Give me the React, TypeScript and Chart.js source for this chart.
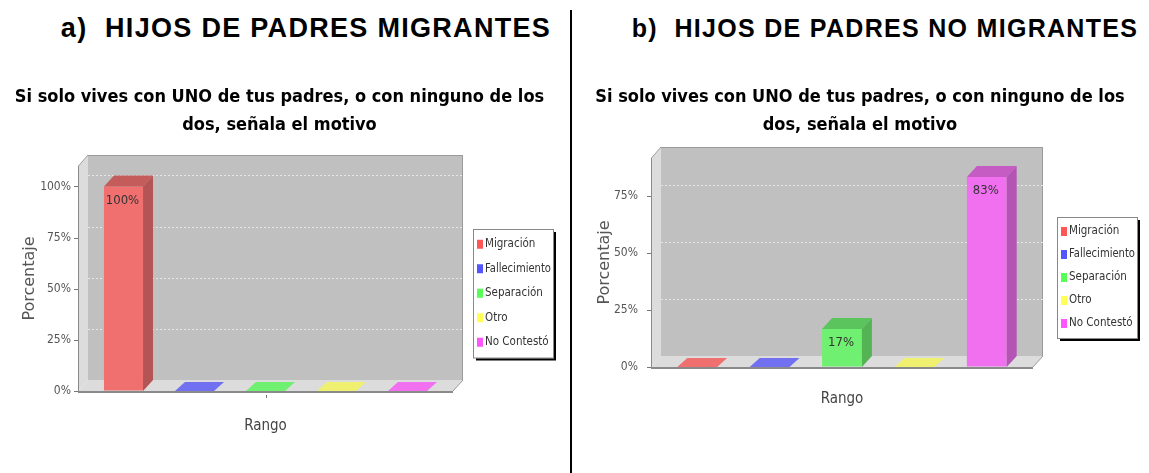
import React, { useEffect, useRef } from "react";
import { Chart, registerables } from "chart.js";
Chart.register(...registerables);

// ---- data ----
const categories = ["Migración", "Fallecimiento", "Separación", "Otro", "No Contestó"];
const migrantValues = [100, 0, 0, 0, 0];
const noMigrantValues = [0, 0, 16.7, 0, 83.3];
const tickStep = 25;
const chartTitle = ["Si solo vives con UNO de tus padres, o con ninguno de los", "dos, señala el motivo"];
const xAxisTitle = "Rango";
const yAxisTitle = "Porcentaje";
const headingA = "a)  HIJOS DE PADRES MIGRANTES";
const headingB = "b)  HIJOS DE PADRES NO MIGRANTES";

// ---- styles ----
const frontColors = ["#f07070", "#7070f0", "#70f070", "#f0f070", "#f070f0"];
const topColors = ["#c45c5c", "#5c5cc4", "#5cc45c", "#c4c45c", "#c45cc4"];
const sideColors = ["#b45454", "#5454b4", "#54b454", "#b4b454", "#b454b4"];
const legendColors = ["#ff5555", "#5555ff", "#55ff55", "#ffff55", "#ff55ff"];

type PanelCfg = {
  values: number[];
  canvasLeft: number;
  canvasWidth: number;
  yAxisWidth: number;
  rightReserve: number;
  titlePadBottom: number;
  xAxisHeight: number;
  rangoPadBottom: number;
  tickLen: number;
  legendDx: number;
  legendDy: number;
  rowH: number;
  centerTick: boolean;
};

const DX = 10;
const DY = 11;

const box3dPlugin = {
  id: "box3d",
  beforeDatasetsDraw(chart: any) {
    const { ctx, chartArea } = chart;
    const y = chart.scales.y;
    const L = chartArea.left, R = chartArea.right, T = chartArea.top, B = chartArea.bottom;
    const FL = L - DX, FR = R + DX;
    ctx.save();
    // back wall
    ctx.fillStyle = "#c0c0c0";
    ctx.fillRect(FL + DX, T - DY, FR - FL, B - T);
    ctx.strokeStyle = "#9a9a9a";
    ctx.lineWidth = 1;
    ctx.beginPath();
    ctx.moveTo(FL + DX, T - DY + 0.5);
    ctx.lineTo(FR + DX - 0.5, T - DY + 0.5);
    ctx.lineTo(FR + DX - 0.5, B - DY);
    ctx.stroke();
    // left wall
    ctx.fillStyle = "#dcdcdc";
    ctx.beginPath();
    ctx.moveTo(FL, T);
    ctx.lineTo(FL + DX, T - DY);
    ctx.lineTo(FL + DX, B - DY);
    ctx.lineTo(FL, B);
    ctx.closePath();
    ctx.fill();
    ctx.strokeStyle = "#a0a0a0";
    ctx.beginPath();
    ctx.moveTo(FL + 0.5, T);
    ctx.lineTo(FL + DX, T - DY);
    ctx.stroke();
    // floor
    ctx.fillStyle = "#dcdcdc";
    ctx.beginPath();
    ctx.moveTo(FL, B);
    ctx.lineTo(FL + DX, B - DY);
    ctx.lineTo(FR + DX, B - DY);
    ctx.lineTo(FR, B);
    ctx.closePath();
    ctx.fill();
    ctx.strokeStyle = "#9a9a9a";
    ctx.beginPath();
    ctx.moveTo(FR, B);
    ctx.lineTo(FR + DX, B - DY);
    ctx.stroke();
    // gridlines on back wall
    ctx.strokeStyle = "#e6e6e6";
    ctx.setLineDash([2, 2]);
    for (const t of y.ticks) {
      if (t.value <= 0) continue;
      const py = Math.round(y.getPixelForValue(t.value) - DY) + 0.5;
      ctx.beginPath();
      ctx.moveTo(FL + DX, py);
      ctx.lineTo(FR + DX, py);
      ctx.stroke();
    }
    ctx.setLineDash([]);
    // front axis lines
    ctx.strokeStyle = "#8a8a8a";
    ctx.lineWidth = 1;
    ctx.beginPath();
    ctx.moveTo(FL + 0.5, T);
    ctx.lineTo(FL + 0.5, B);
    ctx.stroke();
    ctx.lineWidth = 2;
    ctx.beginPath();
    ctx.moveTo(FL, B + 1);
    ctx.lineTo(FR, B + 1);
    ctx.stroke();
    // y tick marks
    ctx.lineWidth = 1;
    ctx.strokeStyle = "#777";
    for (const t of y.ticks) {
      const py = Math.round(y.getPixelForValue(t.value)) + 0.5;
      ctx.beginPath();
      ctx.moveTo(FL - 4, py);
      ctx.lineTo(FL, py);
      ctx.stroke();
    }
    const cfg = chart.options.plugins.box3d as PanelCfg;
    if (cfg.centerTick) {
      const cx = Math.round((L + R) / 2) + 0.5;
      ctx.beginPath();
      ctx.moveTo(cx, B + 4);
      ctx.lineTo(cx, B + 7);
      ctx.stroke();
    }
    // floor marks for zero bars
    const meta = chart.getDatasetMeta(0);
    const ds = chart.data.datasets[0];
    meta.data.forEach((bar: any, i: number) => {
      const v = ds.data[i] as number;
      if (v > 0) return;
      const x0 = bar.x - bar.width / 2, x1 = bar.x + bar.width / 2;
      ctx.fillStyle = frontColors[i];
      ctx.beginPath();
      ctx.moveTo(x0, B);
      ctx.lineTo(x0 + DX, B - DY + 2);
      ctx.lineTo(x1 + DX, B - DY + 2);
      ctx.lineTo(x1, B);
      ctx.closePath();
      ctx.fill();
    });
    ctx.restore();
  },
  afterDatasetsDraw(chart: any) {
    const { ctx, chartArea } = chart;
    const B = chartArea.bottom;
    const meta = chart.getDatasetMeta(0);
    const ds = chart.data.datasets[0];
    ctx.save();
    meta.data.forEach((bar: any, i: number) => {
      const v = ds.data[i] as number;
      if (v <= 0) return;
      const x0 = bar.x - bar.width / 2, x1 = bar.x + bar.width / 2, top = bar.y;
      ctx.fillStyle = topColors[i];
      ctx.beginPath();
      ctx.moveTo(x0, top);
      ctx.lineTo(x0 + DX, top - DY);
      ctx.lineTo(x1 + DX, top - DY);
      ctx.lineTo(x1, top);
      ctx.closePath();
      ctx.fill();
      ctx.fillStyle = sideColors[i];
      ctx.beginPath();
      ctx.moveTo(x1, top);
      ctx.lineTo(x1 + DX, top - DY);
      ctx.lineTo(x1 + DX, B - DY);
      ctx.lineTo(x1, B);
      ctx.closePath();
      ctx.fill();
      ctx.fillStyle = "#333";
      ctx.font = "13px 'DejaVu Sans Condensed', 'DejaVu Sans'";
      ctx.textAlign = "center";
      ctx.textBaseline = "middle";
      ctx.fillText(Math.round(v) + "%", bar.x - 1, top + 14);
    });
    ctx.restore();
  },
  afterDraw(chart: any) {
    const { ctx, chartArea } = chart;
    const cfg = chart.options.plugins.box3d as PanelCfg;
    const w = 80;
    const h = cfg.rowH * categories.length + 6;
    const x = chartArea.right + cfg.legendDx;
    const yc = (chartArea.top + chartArea.bottom) / 2 + cfg.legendDy;
    const y = Math.round(yc - h / 2);
    ctx.save();
    ctx.fillStyle = "#fff";
    ctx.fillRect(x, y, w, h);
    ctx.strokeStyle = "#888";
    ctx.lineWidth = 1;
    ctx.strokeRect(x + 0.5, y + 0.5, w, h);
    ctx.strokeStyle = "#000";
    ctx.lineWidth = 2;
    ctx.beginPath();
    ctx.moveTo(x + w + 2, y + 3);
    ctx.lineTo(x + w + 2, y + h + 2);
    ctx.lineTo(x + 3, y + h + 2);
    ctx.stroke();
    ctx.font = "11.5px 'DejaVu Sans Condensed', 'DejaVu Sans'";
    ctx.textAlign = "left";
    ctx.textBaseline = "middle";
    categories.forEach((c, i) => {
      const ry = y + 3 + cfg.rowH * (i + 0.5);
      ctx.fillStyle = legendColors[i];
      ctx.fillRect(x + 4, ry - 4.5, 6, 9);
      ctx.fillStyle = "#333";
      ctx.fillText(c, x + 12, ry, w - 14);
    });
    ctx.restore();
  },
};

function Panel({ cfg }: { cfg: PanelCfg }) {
  const ref = useRef<HTMLCanvasElement>(null);
  useEffect(() => {
    if (!ref.current) return;
    const maxV = Math.max(...cfg.values) * 1.1;
    const chart = new Chart(ref.current, {
      type: "bar",
      data: {
        labels: categories,
        datasets: [
          {
            data: cfg.values,
            backgroundColor: frontColors,
            borderWidth: 0,
            barPercentage: 0.55,
            categoryPercentage: 1,
          },
        ],
      },
      options: {
        responsive: false,
        animation: false,
        events: [],
        layout: { padding: 0 },
        plugins: {
          legend: { display: false },
          tooltip: { enabled: false },
          title: {
            display: true,
            text: chartTitle,
            color: "#000",
            font: { family: "'DejaVu Sans Condensed', 'DejaVu Sans'", weight: "bold", size: 18, lineHeight: 28 / 18 },
            padding: { top: 13, bottom: cfg.titlePadBottom },
          },
          // @ts-ignore
          box3d: cfg,
        },
        scales: {
          x: {
            type: "category",
            grid: { display: false },
            border: { display: false },
            ticks: { display: false },
            title: {
              display: true,
              text: xAxisTitle,
              color: "#444",
              font: { family: "'DejaVu Sans Condensed', 'DejaVu Sans'", size: 15, lineHeight: 1.2 },
              padding: { top: 0, bottom: cfg.rangoPadBottom },
            },
            afterFit: (s: any) => {
              s.height = cfg.xAxisHeight;
            },
          },
          y: {
            type: "linear",
            min: 0,
            max: maxV,
            grid: { display: true, drawOnChartArea: false, drawTicks: true, tickLength: cfg.tickLen, tickColor: "rgba(0,0,0,0)" },
            border: { display: false },
            ticks: {
              stepSize: tickStep,
              includeBounds: false,
              padding: 3,
              color: "#555",
              font: { family: "'DejaVu Sans Condensed', 'DejaVu Sans'", size: 12 },
              callback: (v: any) => v + "%",
            },
            title: {
              display: true,
              text: yAxisTitle,
              color: "#555",
              font: { family: "'DejaVu Sans'", size: 16, lineHeight: 1.2 },
              padding: { top: 20, bottom: 0 },
            },
            afterFit: (s: any) => {
              s.width = cfg.yAxisWidth;
            },
          },
          yR: {
            type: "linear",
            position: "right",
            display: true,
            grid: { display: false },
            border: { display: false },
            ticks: { display: false },
            afterFit: (s: any) => {
              s.width = cfg.rightReserve;
            },
          },
        },
      },
      plugins: [box3dPlugin],
    } as any);
    return () => chart.destroy();
  }, [cfg]);
  return (
    <canvas
      ref={ref}
      width={cfg.canvasWidth}
      height={403}
      style={{ position: "absolute", left: cfg.canvasLeft, top: 70, width: cfg.canvasWidth, height: 403 }}
    />
  );
}

const leftCfg: PanelCfg = {
  values: migrantValues,
  canvasLeft: 0,
  canvasWidth: 559,
  yAxisWidth: 88,
  rightReserve: 116,
  titlePadBottom: 27,
  xAxisHeight: 82,
  rangoPadBottom: 38,
  tickLen: 14,
  legendDx: 30,
  legendDy: 15,
  rowH: 24.5,
  centerTick: true,
};

const rightCfg: PanelCfg = {
  values: noMigrantValues,
  canvasLeft: 575,
  canvasWidth: 570,
  yAxisWidth: 86,
  rightReserve: 122,
  titlePadBottom: 19,
  xAxisHeight: 106,
  rangoPadBottom: 65,
  tickLen: 20,
  legendDx: 34,
  legendDy: 14.5,
  rowH: 23,
  centerTick: false,
};

export default function App() {
  useEffect(() => {
    document.body.style.margin = "0";
  }, []);
  const headStyle: React.CSSProperties = {
    position: "absolute",
    top: 13,
    width: 600,
    textAlign: "center",
    whiteSpace: "pre",
    fontFamily: "'Liberation Sans', Arial, sans-serif",
    fontWeight: "bold",
    lineHeight: "30px",
    letterSpacing: "1.3px",
    color: "#000",
  };
  return (
    <div style={{ position: "relative", width: 1149, height: 473, background: "#fff", overflow: "hidden" }}>
      <div style={{ ...headStyle, left: 306 - 300, fontSize: 27 }}>{headingA}</div>
      <div style={{ ...headStyle, left: 885 - 300, fontSize: 25 }}>{headingB}</div>
      <div style={{ position: "absolute", left: 570, top: 10, width: 2, height: 463, background: "#000" }} />
      <Panel cfg={leftCfg} />
      <Panel cfg={rightCfg} />
    </div>
  );
}
